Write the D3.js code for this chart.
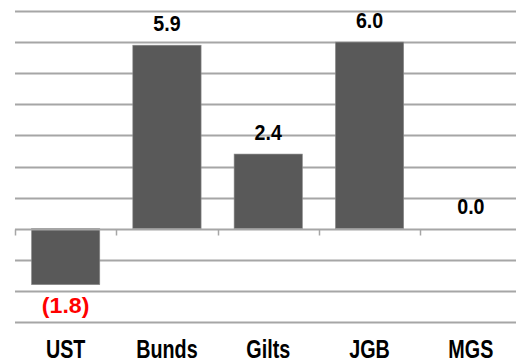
<!DOCTYPE html>
<html>
<head>
<meta charset="utf-8">
<script src="https://cdn.jsdelivr.net/npm/d3@7"></script>
<style>
  html, body { margin: 0; padding: 0; background: #fff; }
  svg { display: block; }
  text { font-family: "Liberation Sans", Arial, sans-serif; font-weight: bold; }
</style>
</head>
<body>
<svg id="chart" width="516" height="363"></svg>
<script>
// Bond markets and their values
const categories = ["UST", "Bunds", "Gilts", "JGB", "MGS"];
const values = [-1.8, 5.9, 2.4, 6.0, 0.0];
const gridTicks = [-3, -2, -1, 0, 1, 2, 3, 4, 5, 6, 7];

const svg = d3.select("#chart");
const width = 516, height = 363;
const left = 15;
const bandWidth = 101.3;

const x = d3.scaleBand()
  .domain(categories)
  .range([left, left + bandWidth * categories.length])
  .paddingInner(0.326)
  .paddingOuter(0.163);

const y = d3.scaleLinear().domain([-3, 7]).range([322, 11]);

// Horizontal gridlines
svg.append("g")
  .selectAll("line")
  .data(gridTicks.filter(d => d !== 0))
  .join("line")
  .attr("x1", left).attr("x2", width)
  .attr("y1", d => Math.round(y(d)) + 0.5).attr("y2", d => Math.round(y(d)) + 0.5)
  .attr("stroke", "#a6a6a6").attr("stroke-width", 2);

// Bars
svg.append("g")
  .selectAll("rect")
  .data(values)
  .join("rect")
  .attr("x", (d, i) => x(categories[i]))
  .attr("width", x.bandwidth())
  .attr("y", d => y(Math.max(0, d)))
  .attr("height", d => Math.abs(y(d) - y(0)))
  .attr("fill", "#595959")
  .attr("stroke", "#8c8c8c").attr("stroke-width", 0.6);

// Category axis along zero, with band-edge ticks
const zeroY = Math.round(y(0)) + 0.5;
svg.append("line")
  .attr("x1", left).attr("x2", width)
  .attr("y1", zeroY).attr("y2", zeroY)
  .attr("stroke", "#a6a6a6").attr("stroke-width", 2);

const edges = categories.map((c, i) => left + i * bandWidth);
svg.append("g")
  .selectAll("line")
  .data(edges)
  .join("line")
  .attr("x1", d => Math.round(d) + 0.5).attr("x2", d => Math.round(d) + 0.5)
  .attr("y1", zeroY).attr("y2", zeroY + 6)
  .attr("stroke", "#a6a6a6").attr("stroke-width", 1.5);

// Value labels (condensed horizontally)
const fmt = d => d < 0 ? "(" + d3.format(".1f")(-d) + ")" : d3.format(".1f")(d);
svg.append("g")
  .selectAll("text")
  .data(values)
  .join("text")
  .attr("transform", (d, i) => {
    const cx = x(categories[i]) + x.bandwidth() / 2;
    const by = d < 0 ? y(d) + 28 : y(d) - 14.5;
    return `translate(${cx},${by}) scale(${d < 0 ? 1.04 : 0.88},1)`;
  })
  .attr("text-anchor", "middle")
  .attr("font-size", 22.3)
  .attr("fill", d => d < 0 ? "#ff0000" : "#000")
  .text(fmt);

// Category labels (condensed horizontally)
svg.append("g")
  .selectAll("text")
  .data(categories)
  .join("text")
  .attr("transform", d => `translate(${x(d) + x.bandwidth() / 2},357.5) scale(0.79,1)`)
  .attr("text-anchor", "middle")
  .attr("font-size", 25)
  .attr("fill", "#000")
  .text(d => d);
</script>
</body>
</html>
